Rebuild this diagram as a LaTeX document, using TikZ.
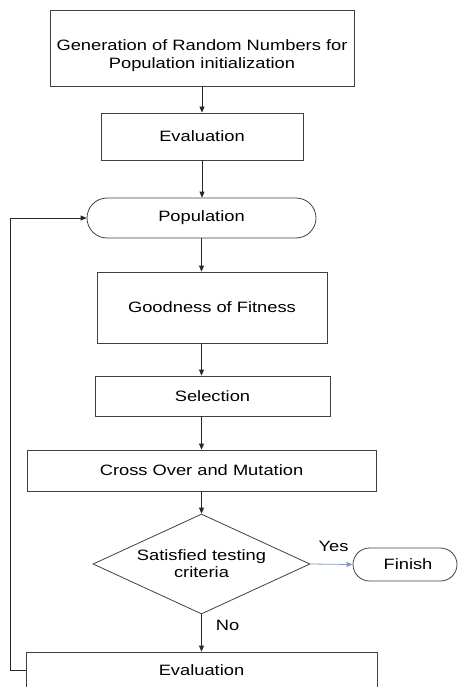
\documentclass[tikz,border=0pt]{standalone}
\usepackage{fontspec}
\setmainfont{Liberation Sans}[FakeStretch=1.22]
\usetikzlibrary{shapes.geometric,shapes.misc,arrows.meta}
\definecolor{yesblue}{RGB}{135,155,190}
\begin{document}
\begin{tikzpicture}[x=1pt,y=-1pt,
  txt/.style={font=\fontsize{15}{17}\selectfont},
  box/.style={txt, draw=black!75, line width=0.8pt, rectangle, inner sep=0pt, align=center},
  term/.style={box, rounded rectangle},
  arr/.style={draw=black!85, line width=0.8pt, -{Triangle[length=6pt,width=5pt]}},
  yesarr/.style={draw=yesblue, line width=0.8pt, -{Triangle[length=6pt,width=5pt]}},
  lab/.style={txt, inner sep=0pt}]
\clip (0,0) rectangle (459,687);
\useasboundingbox (0,0) rectangle (459,687);

\node[box, minimum width=304pt, minimum height=76pt] (gen) at (202,48)
  {\raisebox{-8pt}[\height][\depth]{\begin{tabular}{@{}c@{}}Generation of Random Numbers for\\[1pt]Population initialization\end{tabular}}};
\node[box, minimum width=202pt, minimum height=47pt] (eval1) at (202,136.5) {Evaluation};
\node[term, minimum width=229pt, minimum height=40pt] (pop) at (201.5,218) {Population};
\node[box, minimum width=230pt, minimum height=71pt] (good) at (212,307.5) {Goodness of Fitness};
\node[box, minimum width=235pt, minimum height=40pt] (sel) at (212.5,396) {Selection};
\node[box, minimum width=349pt, minimum height=41pt] (cross) at (201.5,470.5) {Cross Over and Mutation};
\node[txt, diamond, draw=black!75, line width=0.8pt, inner sep=0pt, shape aspect=2.17,
  minimum width=217pt, minimum height=100pt, align=center] (dia) at (201.5,564)
  {Satisfied testing\\criteria};
\node[term, minimum width=104pt, minimum height=33pt] (fin) at (405,564.5) {\hspace*{6pt}Finish};
\node[box, minimum width=351pt, minimum height=36pt] (bot) at (201.5,670) {Evaluation};

\draw[arr] (gen.south -| eval1.north) -- (eval1.north);
\draw[arr] (eval1.south) -- (pop.north -| eval1.south);
\draw[arr] (pop.south) -- (pop.south |- good.north);
\draw[arr] (pop.south |- good.south) -- (pop.south |- sel.north);
\draw[arr] (pop.south |- sel.south) -- (cross.north);
\draw[arr] (cross.south) -- (dia.north);
\draw[yesarr] (dia.east) -- node[lab, pos=0.55, above=12pt] (yes) {Yes} (fin.west);
\draw[arr] (dia.south) -- node[lab, pos=0.3, anchor=west, xshift=14pt] (no) {No} (bot.north);
\draw[arr] (bot.west) -- ++(-15,0) |- (pop.west);
\end{tikzpicture}
\end{document}
